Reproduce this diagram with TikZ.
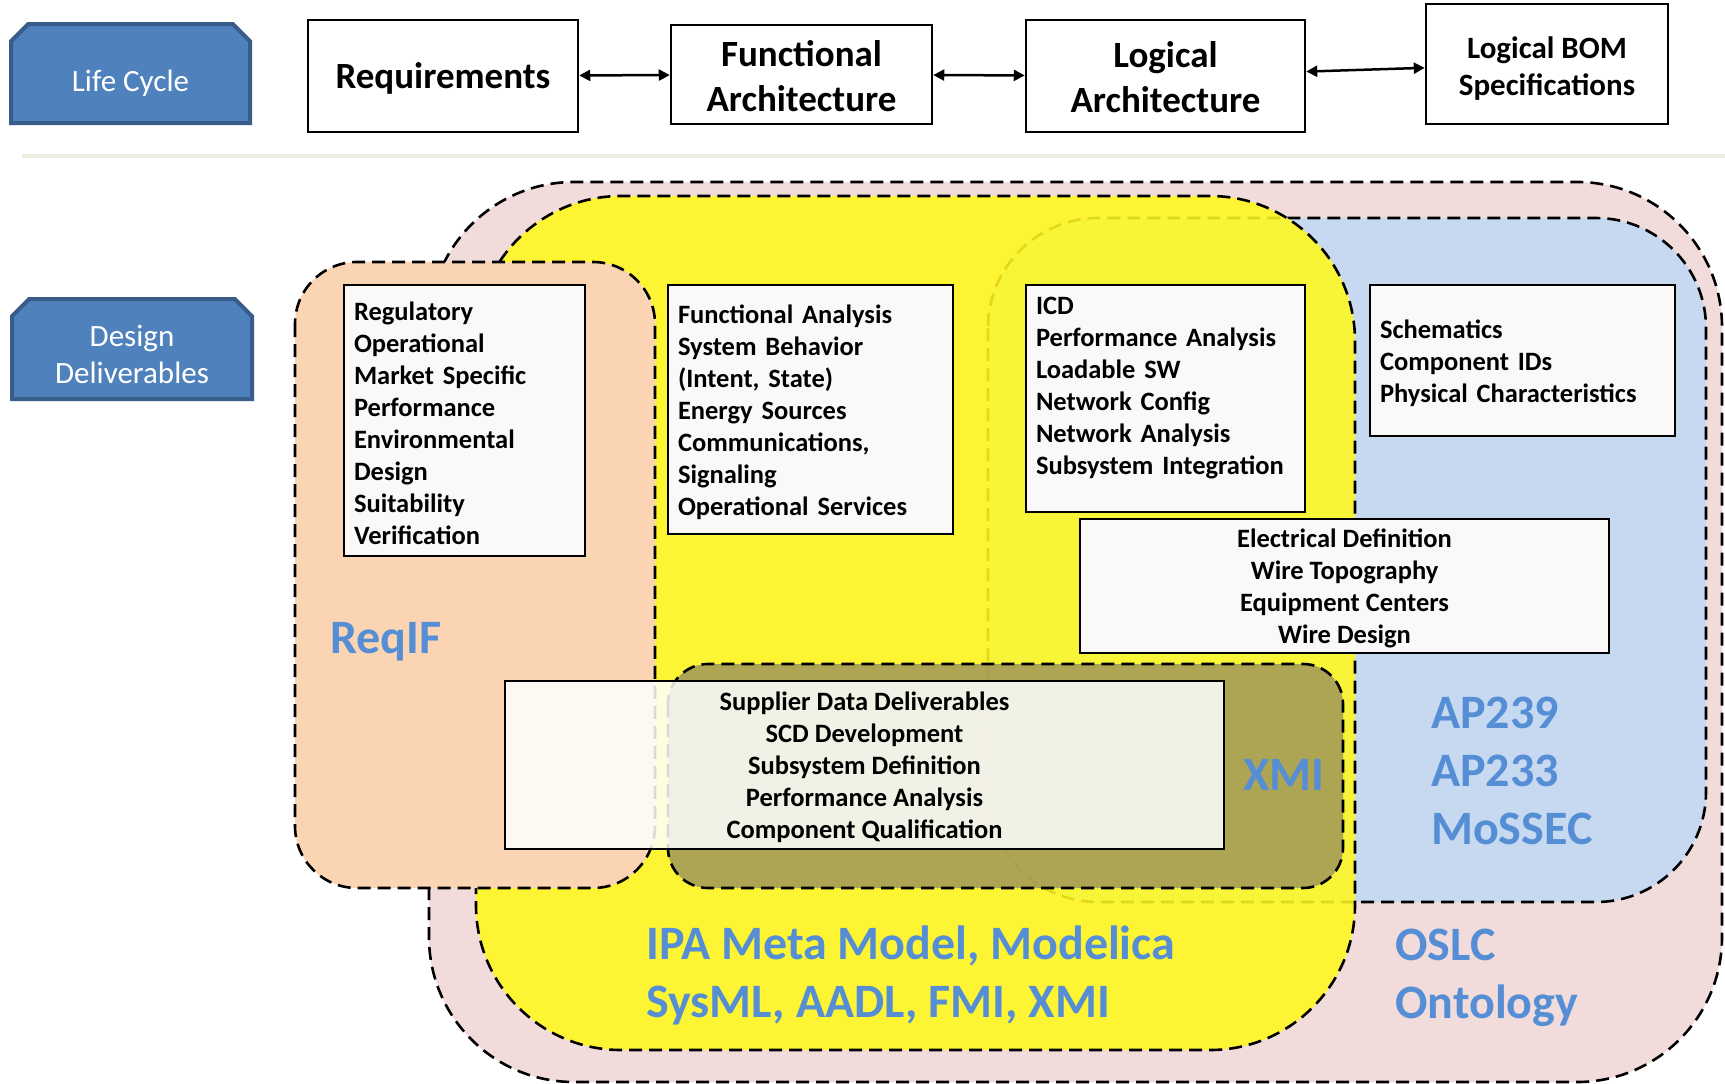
\documentclass[tikz,border=0pt]{standalone}
\usepackage{fontspec}
\setmainfont{Carlito}
\usetikzlibrary{arrows.meta,shapes.misc}
\definecolor{lifeblue}{RGB}{79,129,189}
\definecolor{lifeedge}{RGB}{56,93,138}
\definecolor{oslcpink}{RGB}{242,220,219}
\definecolor{ipayellow}{RGB}{255,248,30}
\definecolor{apblue}{RGB}{198,217,241}
\definecolor{reqorange}{RGB}{251,212,180}
\definecolor{xmiolive}{RGB}{160,150,90}
\definecolor{labelblue}{RGB}{85,142,213}
\definecolor{rulegray}{RGB}{238,236,225}
\definecolor{boxwhite}{RGB}{250,249,247}
\newcommand\headroom[1]{\rule{0pt}{#1}}

\tikzset{
  drop/.style={execute at begin node={\rule{0pt}{#1}}},
  lifebox/.style={chamfered rectangle, chamfered rectangle corners={north west,north east},
    chamfered rectangle xsep=14pt, draw=lifeedge, line width=4pt, fill=lifeblue, text=white,
    align=center, font=\fontsize{31}{37}\selectfont, minimum width=239pt, minimum height=99pt, inner sep=0pt},
  topbox/.style={draw, line width=2.5pt, fill=white, align=center,
    font=\bfseries\fontsize{37}{45}\selectfont, inner sep=0pt},
  itembox/.style={draw, line width=2.5pt, fill=boxwhite,
    font=\bfseries\fontsize{26.5}{32}\selectfont, inner xsep=10pt, inner ysep=0pt},
  listbox/.style={itembox, align=left, drop=23.5pt},
  region/.style={draw=black, line width=2.6pt, dash pattern=on 13pt off 7pt},
  biarrow/.style={{Triangle[length=11pt,width=11pt]}-{Triangle[length=11pt,width=11pt]}, line width=2.5pt},
  biglabel/.style={text=labelblue, font=\bfseries\fontsize{48}{58}\selectfont, align=left, inner sep=0pt},
}

\begin{document}
\begin{tikzpicture}[x=1pt,y=-1pt]
    \useasboundingbox (0,0) rectangle (1725,1084);

    % life cycle row
    \node[lifebox, drop=40pt] (life) at (130.5,73.5) {Life Cycle};
    \node[topbox, drop=31pt, minimum width=270pt, minimum height=112pt] (req) at (443,76) {Requirements};
    \node[topbox, minimum width=261pt, minimum height=99pt] (func) at (801.5,74.5) {\headroom{29pt}Functional\\Architecture};
    \node[topbox, minimum width=279pt, minimum height=112pt] (logic) at (1165.5,76) {\headroom{29pt}Logical\\Architecture};
    \node[topbox, minimum width=242pt, minimum height=120pt, font=\bfseries\fontsize{31}{37}\selectfont] (bom) at (1547,64) {\headroom{30pt}Logical BOM\\Specifications};

    \draw[biarrow] (req) -- (func);
    \draw[biarrow] (func) -- (logic);
    \draw[biarrow] (logic) -- (bom);

    \draw[rulegray, line width=4pt] (22,156) -- (1725,156);

    % design deliverables
    \node[lifebox, minimum width=240pt, minimum height=100pt] (deliv) at (132,349) {\headroom{33pt}Design\\Deliverables};

    \draw[region, fill=oslcpink, rounded corners=145pt] (429,182) rectangle (1722,1082);
    \draw[region, fill=apblue, rounded corners=110pt] (988,218) rectangle (1706,902);
    \draw[region, fill=ipayellow, fill opacity=0.88, rounded corners=145pt] (476,196) rectangle (1355,1050);
    \draw[region, fill=reqorange, rounded corners=62pt] (295,262) rectangle (655,888);
    \draw[region, fill=xmiolive, fill opacity=0.85, rounded corners=40pt] (668,664) rectangle (1343,888);

    \node[biglabel, anchor=west] (reqif) at (330,642) {ReqIF};
    \node[biglabel, anchor=west] (xmi) at (1243,775) {XMI};
    \node[biglabel, anchor=west] (ap) at (1431,771) {AP239\\AP233\\MoSSEC};
    \node[biglabel, anchor=west] (ipa) at (646,975) {IPA Meta Model, Modelica\\SysML, AADL, FMI, XMI};
    \node[biglabel, anchor=west] (oslc) at (1395,978) {OSLC\\Ontology};

    % deliverable boxes
    \node[listbox, text width=221pt, minimum height=271pt] (regs) at (464.5,420.5)
        {Regulatory\\Operational\\Market Specific\\Performance\\Environmental\\Design\\Suitability\\Verification};
    \node[listbox, text width=265pt, minimum height=249pt] (fana) at (810.5,409.5)
        {Functional Analysis\\System Behavior\\(Intent, State)\\Energy Sources\\Communications,\\Signaling\\Operational Services};
    \node[listbox, text width=259pt, minimum height=227pt] (icd) at (1165.5,398.5)
        {ICD\\Performance Analysis\\Loadable SW\\Network Config\\Network Analysis\\Subsystem Integration\\\mbox{}};
    \node[listbox, text width=285pt, minimum height=151pt] (schem) at (1522.5,360.5)
        {Schematics\\Component IDs\\Physical Characteristics};
    \node[itembox, align=center, minimum width=529pt, minimum height=134pt] (elec) at (1344.5,586)
        {\headroom{23pt}Electrical Definition\\Wire Topography\\Equipment Centers\\Wire Design};
    \node[itembox, align=center, fill=white, fill opacity=0.85, text opacity=1, minimum width=719pt, minimum height=168pt] (supp) at (864.5,765)
        {\headroom{23pt}Supplier Data Deliverables\\SCD Development\\Subsystem Definition\\Performance Analysis\\Component Qualification};
\end{tikzpicture}
\end{document}
